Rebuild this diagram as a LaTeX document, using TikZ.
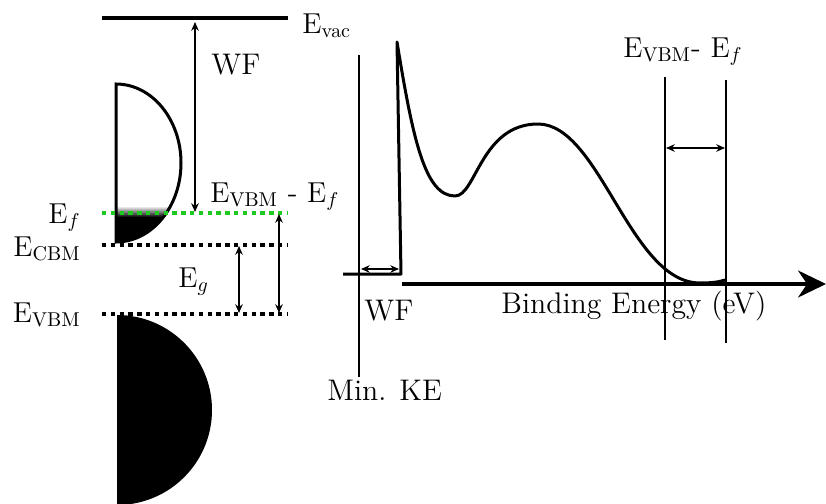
\documentclass[tikz,border=0pt]{standalone}
\usepackage{amsmath}
\usepackage{tikz}
\usetikzlibrary{arrows.meta}
\definecolor{fermigreen}{RGB}{30,200,30}
\tikzset{
  >={Stealth[length=4.4pt,width=3.8pt]},
  lbl/.style={font=\fontsize{14.9}{18}\selectfont,inner sep=0pt},
  vaclvl/.style={line width=2pt},
  dotlvl/.style={line width=2pt,dash pattern=on 2.2pt off 2.2pt},
  fermilvl/.style={dotlvl,draw=fermigreen},
  dimarr/.style={<->,line width=0.7pt},
  band/.style={line width=1.5pt},
  spec/.style={line width=1.5pt,line join=round},
  axisln/.style={-{Stealth[length=14pt,width=13.5pt]},line width=1.6pt},
  marker/.style={line width=1.3pt},
  thinln/.style={line width=0.75pt},
}

\begin{document}
\begin{tikzpicture}[x=0.5pt,y=-0.5pt]
  \useasboundingbox (0,0) rectangle (826,504);

  \coordinate (vacL) at (102,18);   \coordinate (vacR) at (288,18);
  \coordinate (efL)  at (102,213);  \coordinate (efR)  at (288,213);
  \coordinate (cbmL) at (102,245);  \coordinate (cbmR) at (288,245);
  \coordinate (vbmL) at (102,314);  \coordinate (vbmR) at (288,314);

  \begin{scope}
    \clip (116,84) arc[start angle=-90,end angle=90,x radius=65,y radius=79] -- cycle;
    \shade[top color=white,bottom color=black] (110,206) rectangle (190,217);
    \fill (110,217) rectangle (190,250);
  \end{scope}
  \draw[band] (116,84) arc[start angle=-90,end angle=90,x radius=65,y radius=79] -- cycle;
  \fill (117,315) arc[start angle=-90,end angle=90,x radius=95,y radius=95] -- cycle;

  \draw[vaclvl] (vacL) -- (vacR);
  \draw[fermilvl] (efL) -- (efR);
  \draw[dotlvl] (cbmL) -- (cbmR);
  \draw[dotlvl] (vbmL) -- (vbmR);

  \node[lbl,anchor=base west] (evac) at (302,33) {$\mathrm{E}_{\mathrm{vac}}$};
  \node[lbl,anchor=base east] (ef) at (81,223) {$\mathrm{E}_f$};
  \node[lbl,anchor=base east] (ecbm) at (81,256) {$\mathrm{E}_{\mathrm{CBM}}$};
  \node[lbl,anchor=base east] (evbm) at (81,322) {$\mathrm{E}_{\mathrm{VBM}}$};
  \node[lbl,anchor=base west] (wf) at (211,74) {WF};
  \node[lbl,anchor=base west] (eg) at (178,287) {$\mathrm{E}_g$};
  \node[lbl,anchor=base west] (vbmef) at (210,202) {$\mathrm{E}_{\mathrm{VBM}}$ - $\mathrm{E}_f$};

  \coordinate (wfT) at (195,22);   \coordinate (wfB) at (195,212);
  \coordinate (egT) at (239,246);  \coordinate (egB) at (239,313);
  \coordinate (veT) at (279,214);  \coordinate (veB) at (279,313);
  \draw[dimarr] (wfT) -- (wfB);
  \draw[dimarr] (egT) -- (egB);
  \draw[dimarr] (veT) -- (veB);

  \coordinate (keT) at (359,55);   \coordinate (keB) at (359,377);
  \draw[thinln] (keT) -- (keB);
  \node[lbl,anchor=base west] (minke) at (327,400) {Min. KE};

  \coordinate (base0) at (343,274); \coordinate (base1) at (401,274);
  \coordinate (peak) at (397,42);   \coordinate (dip) at (455,196);
  \coordinate (hump) at (538,124);  \coordinate (low) at (700,283);
  \coordinate (tail) at (725,280);
  \draw[spec] (base0) -- (base1) -- (peak)
    .. controls (413,140) and (425,196) .. (dip)
    .. controls (476,196) and (481,124) .. (hump)
    .. controls (600,124) and (630,283) .. (low)
    .. controls (712,283) and (719,282) .. (tail);

  \coordinate (axL) at (402,284);  \coordinate (axR) at (826,284);
  \draw[axisln] (axL) -- (axR);

  \coordinate (wfaL) at (361,269); \coordinate (wfaR) at (399,269);
  \draw[dimarr] (wfaL) -- (wfaR);
  \node[lbl,anchor=base west] (wf2) at (364,320) {WF};
  \node[lbl,anchor=base west] (be) at (501,313) {Binding Energy (eV)};

  \coordinate (m1T) at (665,77);   \coordinate (m1B) at (665,340);
  \coordinate (m2T) at (726,80);   \coordinate (m2B) at (726,343);
  \draw[marker] (m1T) -- (m1B);
  \draw[marker] (m2T) -- (m2B);
  \coordinate (gapL) at (666,148); \coordinate (gapR) at (725,148);
  \draw[dimarr] (gapL) -- (gapR);
  \node[lbl,anchor=base west] (vbmef2) at (623,57) {$\mathrm{E}_{\mathrm{VBM}}$- $\mathrm{E}_f$};
\end{tikzpicture}
\end{document}
